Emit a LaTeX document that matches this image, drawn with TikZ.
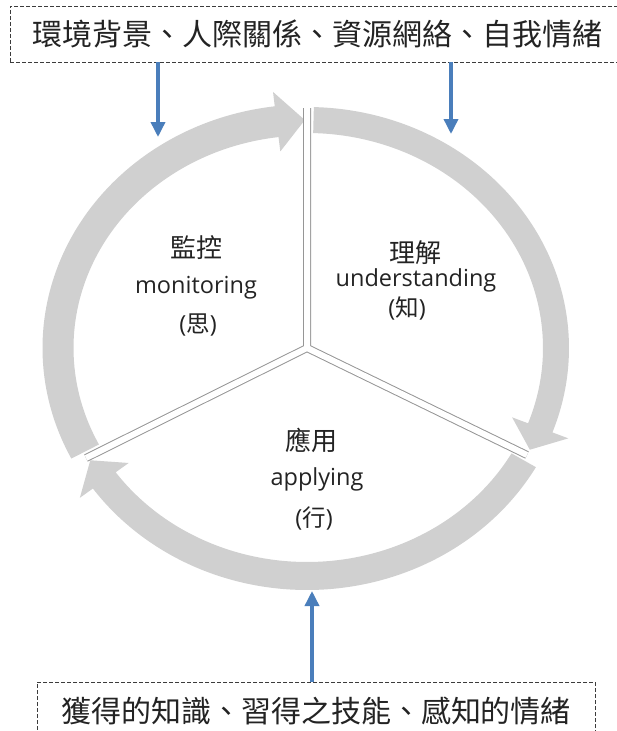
\documentclass[tikz,border=0pt]{standalone}
\usepackage{fontspec}
\setmainfont{Open Sans}
\newfontfamily\cjk{Noto Sans CJK TC}
\usetikzlibrary{arrows.meta}
\definecolor{ringfill}{RGB}{208,208,208}
\definecolor{divgray}{RGB}{150,150,150}
\definecolor{arrblue}{RGB}{74,126,187}
\definecolor{boxline}{RGB}{60,60,60}
\definecolor{txt}{RGB}{35,35,35}
\newcommand{\ringseg}[5]{%
 \pgfmathsetmacro\rxo{249+#4}\pgfmathsetmacro\ryo{228+#4}%
 \pgfmathsetmacro\rxi{249-#4}\pgfmathsetmacro\ryi{228-#4}%
 \pgfmathsetmacro\rxw{249+#5}\pgfmathsetmacro\ryw{228+#5}%
 \pgfmathsetmacro\rxv{249-#5}\pgfmathsetmacro\ryv{228-#5}%
 \fill[ringfill] (#1:{\rxo} and {\ryo}) arc[start angle=#1,end angle=#2,x radius=\rxo,y radius=\ryo]
   -- (#2:{\rxw} and {\ryw}) -- (#3:249 and 228) -- (#2:{\rxv} and {\ryv})
   -- (#2:{\rxi} and {\ryi}) arc[start angle=#2,end angle=#1,x radius=\rxi,y radius=\ryi] -- cycle;}
\begin{document}
\begin{tikzpicture}[x=1pt,y=-1pt,
  divider/.style={draw=divgray,line width=1pt,double=white,double distance=6pt},
  bluearr/.style={draw=arrblue,line width=3.5pt,-{Triangle[width=14pt,length=15pt]}},
  textbox/.style={draw=boxline,dash pattern=on 4pt off 2pt,line width=0.8pt,
    font=\cjk\fontsize{30}{36}\selectfont,text=txt,inner sep=0pt},
  cjklab/.style={font=\cjk\fontsize{26}{30}\selectfont,text=txt,inner sep=0pt},
  enlab/.style={font=\fontsize{23.5}{28}\selectfont,text=txt,inner sep=0pt,anchor=base},
  parlab/.style={font=\fontsize{23.5}{28}\selectfont,text=txt,inner sep=0pt}]
\useasboundingbox (0,0) rectangle (616,731);
\coordinate (C) at (307,348);
\begin{scope}[shift={(C)}]
  \ringseg{153}{263}{269.5}{15.5}{30}
  \ringseg{271.5}{380.5}{386.5}{13}{30}
  \ringseg{29.5}{144.5}{150.5}{14}{30}
\end{scope}
\coordinate (T) at (307,108);
\coordinate (R) at (527,455);
\coordinate (L) at (86,458);
\draw[divider] (T) -- (C) -- (R) (C) -- (L);
% boxes
\node[textbox,minimum width=615,minimum height=56] (topbox) at (317.5,34) {環境背景、人際關係、資源網絡、自我情緒};
\node[textbox,minimum width=558,minimum height=58] (botbox) at (316,711) {獲得的知識、習得之技能、感知的情緒};
% blue arrows
\coordinate (a1) at (158,137);
\coordinate (a2) at (451,134);
\coordinate (a3) at (312,591);
\draw[bluearr] (topbox.south -| a1) -- (a1);
\draw[bluearr] (topbox.south -| a2) -- (a2);
\draw[bluearr] (botbox.north -| a3) -- (a3);
% labels
\node[cjklab] (mon1) at (196,248) {監控};
\node[enlab] (mon2) at (196,293.5) {monitoring};
\node[parlab] (mon3) at (198,325) {({\cjk 思})};
\node[cjklab] (und1) at (415,253) {理解};
\node[enlab] (und2) at (416,286.5) {understanding};
\node[parlab] (und3) at (407,308) {({\cjk 知})};
\node[cjklab] (app1) at (311,440) {應用};
\node[enlab] (app2) at (317,485) {applying};
\node[parlab] (app3) at (314,518) {({\cjk 行})};
\end{tikzpicture}
\end{document}
